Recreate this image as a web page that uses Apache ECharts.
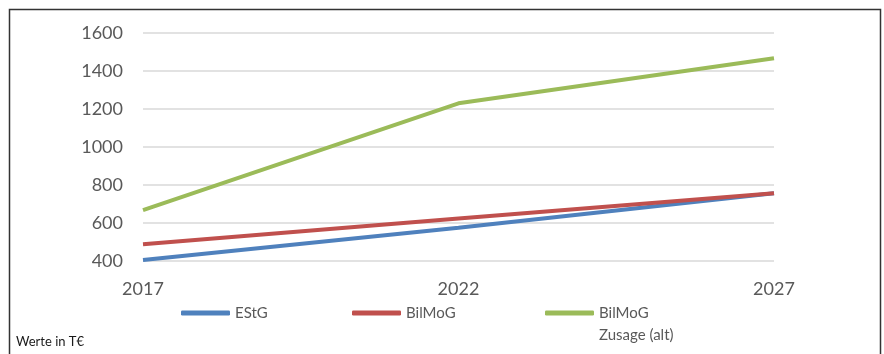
<!DOCTYPE html>
<html><head><meta charset="utf-8">
<script src="https://cdn.jsdelivr.net/npm/echarts@6/dist/echarts.min.js"></script>
<style>html,body{margin:0;padding:0;background:#fff}#c{width:884px;height:354px}</style>
</head><body><div id="c"></div>
<script>
const categories = ['2017', '2022', '2027'];
const estg = [405, 575, 757];
const bilmog = [488, 624, 757];
const bilmogAlt = [668, 1230, 1467];
const seriesNames = ['EStG', 'BilMoG', 'BilMoG Zusage (alt)'];
const yTicks = {min: 400, max: 1600, interval: 200};
const note = 'Werte in T€';

const FONT = 'Lato';
const chart = echarts.init(document.getElementById('c'), null, {renderer: 'canvas'});
const legendBase = {
  icon: 'roundRect', itemWidth: 49, itemHeight: 5, padding: 0, itemGap: 0,
  textStyle: {fontFamily: FONT, fontSize: 15, color: '#595959', lineHeight: 18}
};
chart.setOption({
  animation: false,
  color: ['#4F81BD', '#C0504D', '#9BBB59'],
  grid: {left: 143, right: 110, top: 33, bottom: 93},
  xAxis: {
    type: 'category', data: categories, boundaryGap: false,
    axisLine: {show: false}, axisTick: {show: false},
    axisLabel: {fontFamily: FONT, fontSize: 18, color: '#595959', margin: 19}
  },
  yAxis: {
    type: 'value', min: yTicks.min, max: yTicks.max, interval: yTicks.interval,
    axisLine: {show: false}, axisTick: {show: false},
    axisLabel: {fontFamily: FONT, fontSize: 18, color: '#595959', margin: 20, formatter: v => String(v)},
    splitLine: {lineStyle: {color: '#d9d9d9', width: 1.5}}
  },
  legend: [
    Object.assign({}, legendBase, {data: [seriesNames[0]], left: 181, top: 304}),
    Object.assign({}, legendBase, {data: [seriesNames[1]], left: 352, top: 304}),
    Object.assign({}, legendBase, {data: [seriesNames[2]], left: 545, top: 280,
      formatter: () => '\u00a0\nBilMoG\nZusage (alt)',
      textStyle: {fontFamily: FONT, fontSize: 15, color: '#595959', lineHeight: 22}})
  ],
  graphic: [
    {type: 'rect', shape: {x: 9.5, y: 9.5, width: 871, height: 400},
     style: {fill: 'none', stroke: '#333', lineWidth: 1.5}, silent: true},
    {type: 'text', left: 16, top: 335,
     style: {text: note, fontFamily: FONT, fontSize: 13, fill: '#1a1a1a'}}
  ],
  series: [
    {name: seriesNames[0], type: 'line', data: estg, showSymbol: false, lineStyle: {width: 4}},
    {name: seriesNames[1], type: 'line', data: bilmog, showSymbol: false, lineStyle: {width: 4}},
    {name: seriesNames[2], type: 'line', data: bilmogAlt, showSymbol: false, lineStyle: {width: 4}}
  ]
});
</script></body></html>
